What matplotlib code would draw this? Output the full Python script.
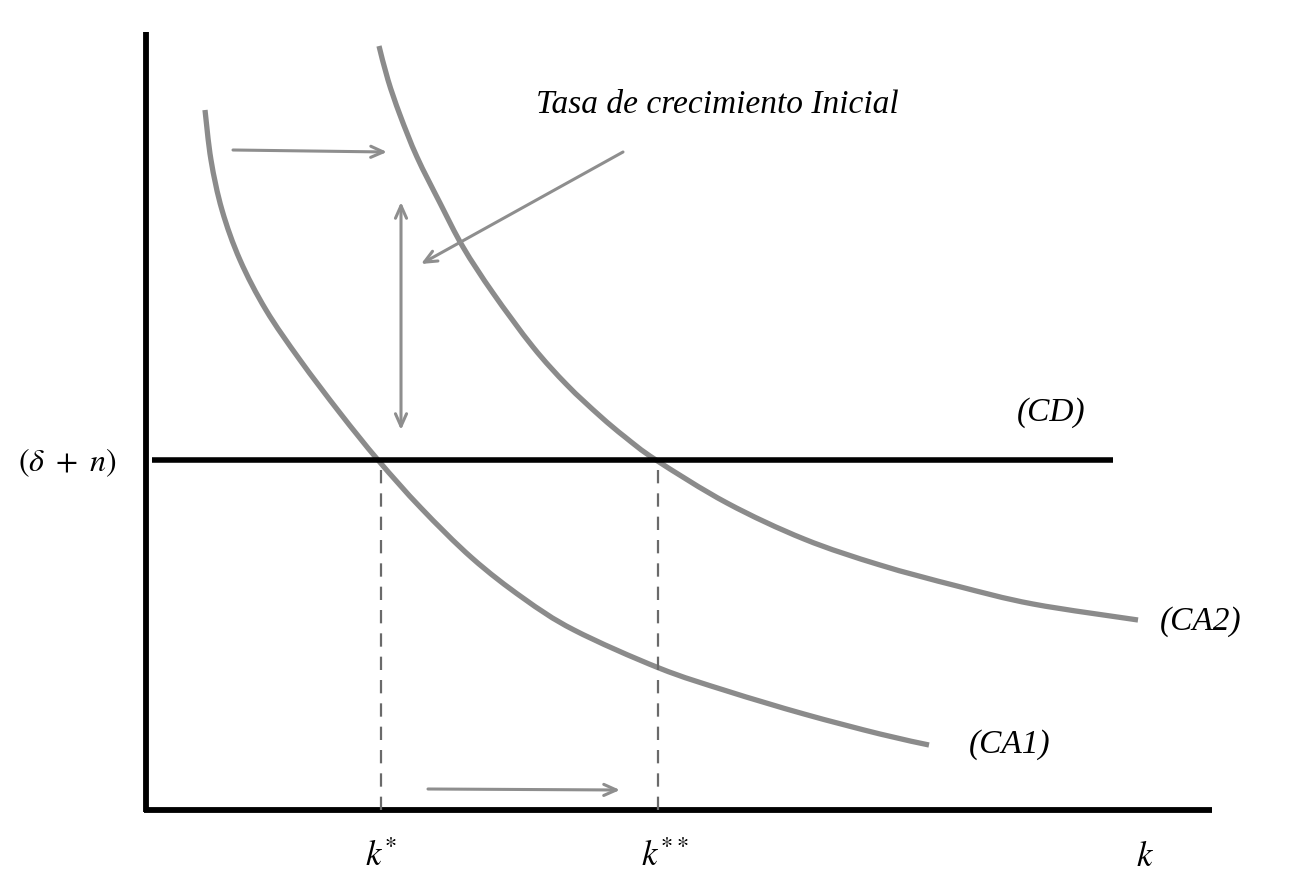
"""Solow diagram: shift of the savings curve (CA1 -> CA2) and new steady state k**."""
import matplotlib
matplotlib.use("Agg")
import matplotlib.pyplot as plt
from matplotlib.path import Path
from matplotlib.patches import PathPatch

plt.rcParams["mathtext.fontset"] = "stix"
plt.rcParams["font.family"] = ["Liberation Serif", "DejaVu Serif"]

# --- data (k along the axis, value above the k axis) ---
ca1_k = [59, 65, 76, 94, 120, 154, 194, 232, 275, 326, 377, 428, 513, 581, 658, 734, 783]
ca1_y = [700, 650, 600, 550, 500, 450, 397, 350, 302, 252, 212, 180, 142, 119, 96, 76, 65]

ca2_k = [233, 242, 254, 271, 294, 317, 347, 387, 421, 454, 479, 510, 581, 658, 734, 811, 887, 992]
ca2_y = [764, 730, 695, 653, 607, 563, 517, 463, 425, 394, 373, 350, 307, 271, 245, 224, 206, 190]

cd_level = 350
cd_k = [6, 967]
k_star = 235
k_star2 = 512
k_max = 1066
y_max = 778

labels_k = [r"$k^{*}$", r"$k^{**}$", r"$k$"]
labels_k_pos = [235, 519, 999]

GREY = "#8b8b8b"
ARROW = "#8e8e8e"


def smooth_path(xs, ys):
    # Catmull-Rom through the read points, drawn as cubic Bezier segments
    pts = list(zip(xs, ys))
    verts = [pts[0]]
    codes = [Path.MOVETO]
    n = len(pts)
    for i in range(n - 1):
        p0 = pts[max(i - 1, 0)]
        p1 = pts[i]
        p2 = pts[i + 1]
        p3 = pts[min(i + 2, n - 1)]
        c1 = (p1[0] + (p2[0] - p0[0]) / 6, p1[1] + (p2[1] - p0[1]) / 6)
        c2 = (p2[0] - (p3[0] - p1[0]) / 6, p2[1] - (p3[1] - p1[1]) / 6)
        verts += [c1, c2, p2]
        codes += [Path.CURVE4] * 3
    return Path(verts, codes)


fig = plt.figure(figsize=(12.99, 8.86), dpi=100)
ax = fig.add_axes([0, 0, 1, 1])
ax.set_xlim(-146, 1299 - 146)
ax.set_ylim(-76, 810)
ax.axis("off")

# axes
ax.plot([0, 0], [-2, y_max], color="black", lw=4.2, solid_capstyle="butt")
ax.plot([-2, k_max], [0, 0], color="black", lw=4.2, solid_capstyle="butt")

# depreciation line (CD)
ax.plot(cd_k, [cd_level, cd_level], color="black", lw=4.0, solid_capstyle="butt")

# savings curves
for xs, ys in ((ca1_k, ca1_y), (ca2_k, ca2_y)):
    ax.add_patch(PathPatch(smooth_path(xs, ys), fill=False, edgecolor=GREY,
                           lw=3.8, capstyle="butt"))

# steady-state drop lines
for kk in (k_star, k_star2):
    ax.plot([kk, kk], [0, cd_level], color="#6a6a6a", lw=1.6, dashes=(6, 4.5))

# arrows
arr = dict(arrowstyle="->,head_length=0.45,head_width=0.2", color=ARROW, lw=2.2,
           mutation_scale=20, shrinkA=0, shrinkB=0)
ax.annotate("", xy=(241, 658), xytext=(87, 660), arrowprops=arr)
ax.annotate("", xy=(474, 20), xytext=(282, 21), arrowprops=arr)
ax.annotate("", xy=(275, 546), xytext=(477, 658), arrowprops=arr)
ax.annotate("", xy=(255, 608), xytext=(255, 380),
            arrowprops=dict(arr, arrowstyle="<->,head_length=0.45,head_width=0.2"))

# text
ax.text(571, 705, "Tasa de crecimiento Inicial", fontsize=24, style="italic",
        ha="center", va="center")
ax.text(-78, 347, r"$(\delta\ +\ n)$", fontsize=23, ha="center", va="center")
ax.text(905, 397, "(CD)", fontsize=24, style="italic", ha="center", va="center")
ax.text(1055, 188, "(CA2)", fontsize=24, style="italic", ha="center", va="center")
ax.text(864, 65, "(CA1)", fontsize=24, style="italic", ha="center", va="center")
for lab, pos in zip(labels_k, labels_k_pos):
    ax.text(pos, -48, lab, fontsize=25, ha="center", va="center")

fig.savefig("out.png", dpi=100)
